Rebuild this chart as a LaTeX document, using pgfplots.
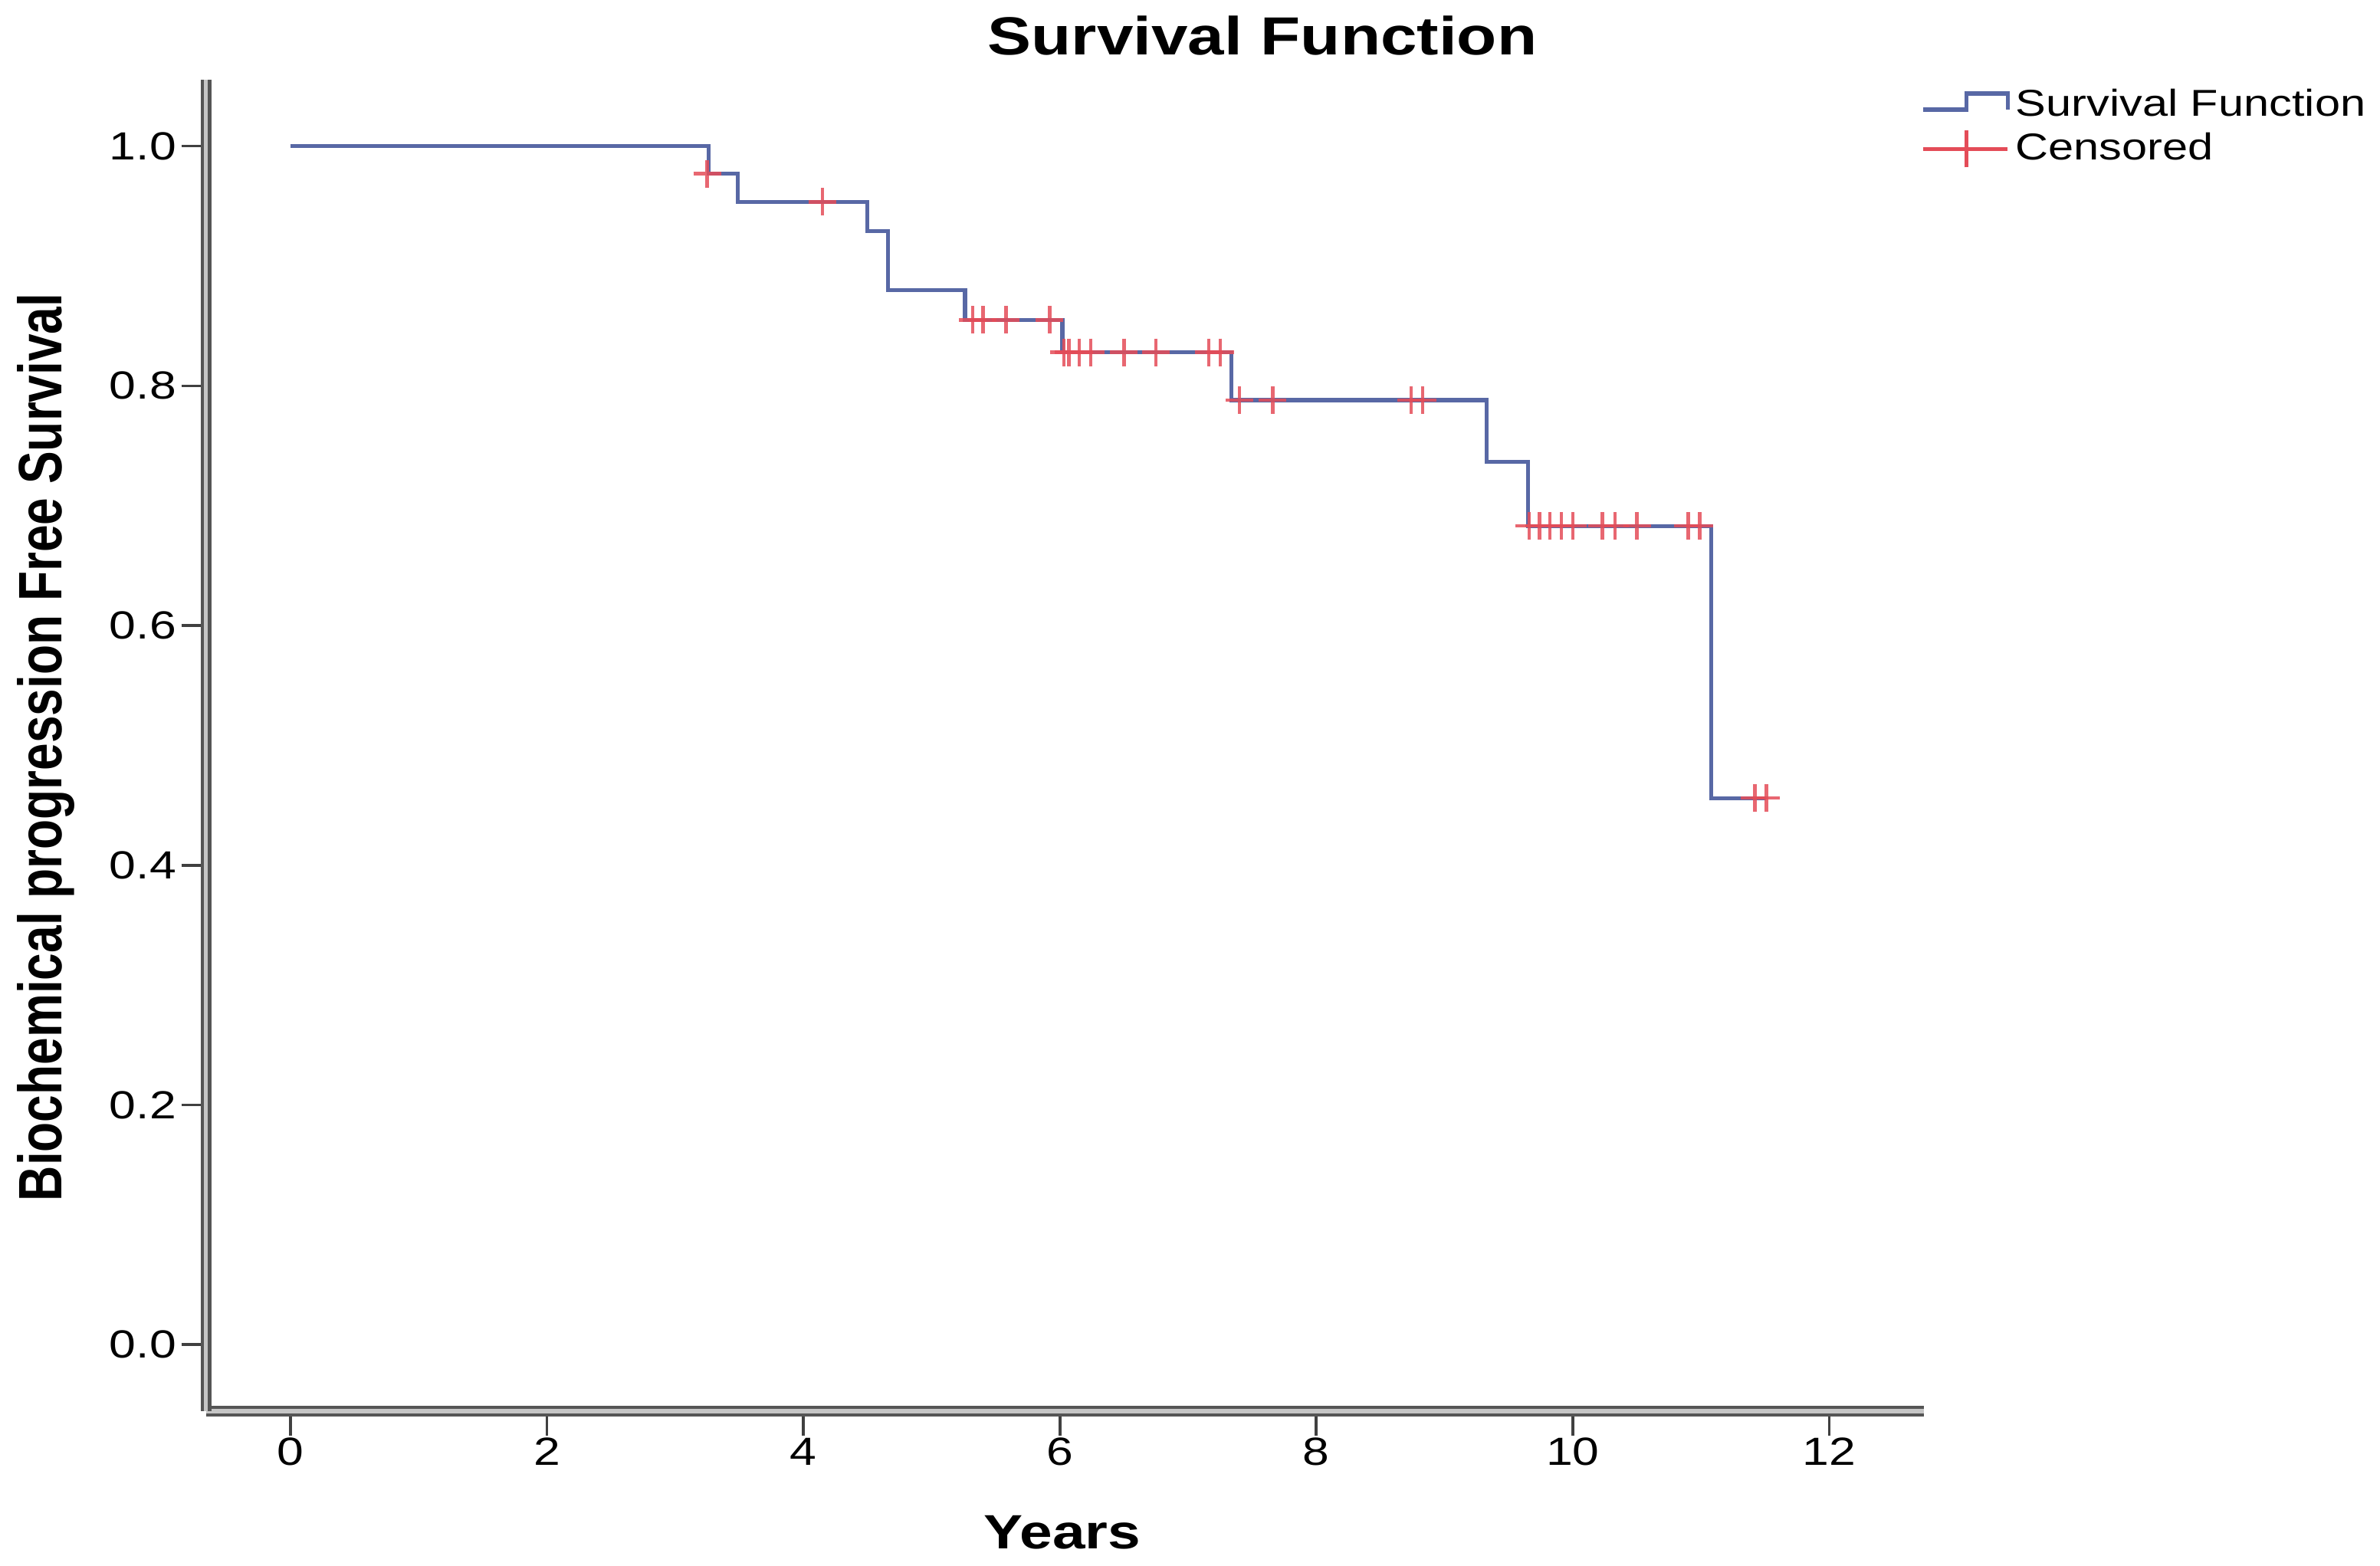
\documentclass[border=0pt]{standalone}
\usepackage{fontspec}
\setmainfont{Liberation Sans}[FakeStretch=1.22]
\newfontfamily\ylabfont{Liberation Sans}[FakeStretch=0.8]
\usepackage{pgfplots}
\pgfplotsset{compat=1.18}

\definecolor{survblue}{RGB}{88,104,165}
\definecolor{censred}{RGB}{228,76,88}
\definecolor{axisgray}{RGB}{85,85,85}

\begin{document}
\begin{tikzpicture}
\path[use as bounding box] (-67.15pt,-50.5pt) rectangle (709.1pt,460.25pt);
\begin{axis}[
    at={(0pt,0pt)}, anchor=south west,
    scale only axis, width=560.4pt, height=434.25pt,
    xmin=-0.66, xmax=12.74, ymin=-0.0555, ymax=1.0554,
    axis x line=bottom, axis y line=left,
    axis line style={-, draw=axisgray, line width=1.1pt, double=gray!45, double distance=1.3pt},
    xtick={0,2,4,6,8,10,12},
    ytick={0,0.2,0.4,0.6,0.8,1},
    tick align=outside, major tick length=8pt,
    tick style={draw=black!75, line width=0.9pt},
    /pgf/number format/assume math mode=true,
    ticklabel style={font=\fontsize{12.8}{14}\selectfont, inner sep=0pt},
    xticklabel style={yshift=-0.5pt},
    yticklabel style={xshift=-1.5pt, /pgf/number format/fixed, /pgf/number format/fixed zerofill, /pgf/number format/precision=1},
    xlabel={Years},
    xlabel style={font=\bfseries\fontsize{15.7}{18}\selectfont, at={(axis description cs:0.4985,-0.091)}, anchor=center, inner sep=0pt},
    ylabel={Biochemical progression Free Survival},
    ylabel style={font=\ylabfont\bfseries\fontsize{20}{22}\selectfont, at={(axis description cs:-0.0841,0.4986)}, anchor=base, inner sep=0pt},
    legend style={draw=none, fill=none, at={(axis description cs:0.998,0.998)}, anchor=north west, inner sep=0pt, font=\fontsize{12.2}{14}\selectfont},
    legend cell align=left,
]
\addplot[const plot, survblue, line width=1.3pt, line join=miter,
    legend image code/.code={\draw[survblue, line width=1.3pt] (0pt,-1.5pt) -- (14pt,-1.5pt) -- (14pt,3.75pt) -- (27.5pt,3.75pt) -- (27.5pt,-1.5pt);}]
    coordinates {(0,1) (3.26,0.977) (3.49,0.9535) (4.50,0.929) (4.66,0.880) (5.26,0.855) (6.02,0.828) (7.34,0.788) (9.33,0.7365) (9.65,0.683) (11.08,0.456) (11.51,0.456)};
\addlegendentry{Survival Function}
\addplot[only marks, mark=+, mark size=4.5pt, mark options={censred, line width=1.1pt, opacity=0.85},
    legend image code/.code={\draw[censred, line width=1.2pt] (0pt,0pt) -- (27.5pt,0pt); \draw[censred, line width=1.2pt] (14pt,-6pt) -- (14pt,6pt);}]
    coordinates {
    (3.25,0.977)
    (4.15,0.9535)
    (5.32,0.855) (5.40,0.855) (5.58,0.855) (5.92,0.855)
    (6.03,0.828) (6.07,0.828) (6.15,0.828) (6.24,0.828) (6.50,0.828) (6.75,0.828) (7.16,0.828) (7.25,0.828)
    (7.40,0.788) (7.66,0.788) (8.74,0.788) (8.83,0.788)
    (9.66,0.683) (9.74,0.683) (9.82,0.683) (9.91,0.683) (10.00,0.683) (10.23,0.683) (10.33,0.683) (10.50,0.683) (10.90,0.683) (10.99,0.683)
    (11.42,0.456) (11.51,0.456)
    };
\addlegendentry{Censored}
\end{axis}
\node[font=\bfseries\fontsize{17.5}{20}\selectfont, inner sep=0pt, anchor=center] at (344.6pt,448.6pt) {Survival Function};
\end{tikzpicture}
\end{document}
